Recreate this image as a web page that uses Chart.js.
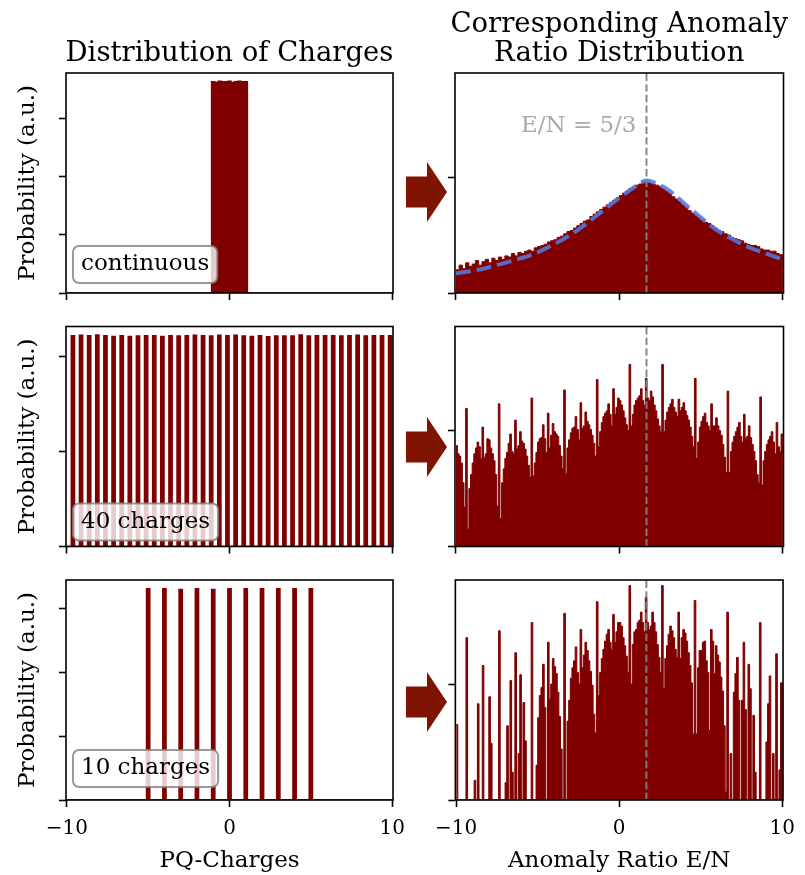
<!DOCTYPE html>
<html>
<head>
<meta charset="utf-8">
<script src="https://cdn.jsdelivr.net/npm/chart.js@4.4.1/dist/chart.umd.min.js"></script>
<style>
  body { margin: 0; background: #fff; }
  #fig { position: relative; width: 805px; height: 875px; overflow: hidden; background: #fff; }
  #fig canvas { position: absolute; }
  #arrows { position: absolute; left: 0; top: 0; }
</style>
</head>
<body>
<div id="fig">
  <canvas id="cTL"></canvas>
  <canvas id="cML"></canvas>
  <canvas id="cBL"></canvas>
  <canvas id="cTR"></canvas>
  <canvas id="cMR"></canvas>
  <canvas id="cBR"></canvas>
  <svg id="arrows" width="805" height="875">
    <polygon fill="#7f1402" points="406,176.5 427,176.5 427,162 447,192 427,222 427,207.5 406,207.5"/>
    <polygon fill="#7f1402" points="406,431.5 427,431.5 427,417 447,447 427,477 427,462.5 406,462.5"/>
    <polygon fill="#7f1402" points="406,686.5 427,686.5 427,672 447,702 427,732 427,717.5 406,717.5"/>
  </svg>
</div>
<script>
// ---- shared ----
const xTickValues = [-10, 0, 10];
const ratioRef = 5 / 3;          // E/N = 5/3
const rightTicks = [0, 1];
const rightMax = 1.897;

// ---- left column: charge distributions ----
// continuous: bin left edges, heights
const contEdges = [-1.1, -0.9, -0.7, -0.5, -0.3, -0.1, 0.1, 0.3, 0.5, 0.7, 0.9, 1.1];
const contHeights = [3.64, 3.63, 3.65, 3.64, 3.64, 3.65, 3.63, 3.64, 3.65, 3.64, 3.64];
const contTicks = [0, 1, 2, 3];

// 40 charges
const charges40 = [-9.625, -9.125, -8.625, -8.125, -7.625, -7.125, -6.625, -6.125, -5.625, -5.125,
  -4.625, -4.125, -3.625, -3.125, -2.625, -2.125, -1.625, -1.125, -0.625, -0.125,
  0.375, 0.875, 1.375, 1.875, 2.375, 2.875, 3.375, 3.875, 4.375, 4.875,
  5.375, 5.875, 6.375, 6.875, 7.375, 7.875, 8.375, 8.875, 9.375, 9.875];
const heights40 = [2.219, 2.223, 2.219, 2.226, 2.219, 2.212, 2.219, 2.212, 2.216, 2.219,
  2.219, 2.212, 2.219, 2.216, 2.219, 2.223, 2.219, 2.216, 2.223, 2.219,
  2.223, 2.216, 2.212, 2.219, 2.209, 2.216, 2.216, 2.216, 2.226, 2.216,
  2.219, 2.219, 2.219, 2.216, 2.219, 2.223, 2.216, 2.219, 2.219, 2.219];
const ticks40 = [0, 1, 2];

// 10 charges
const charges10 = [-5, -4, -3, -2, -1, 0, 1, 2, 3, 4, 5];
const heights10 = [3.30, 3.30, 3.29, 3.30, 3.29, 3.30, 3.30, 3.30, 3.30, 3.30, 3.30];
const ticks10 = [0, 1, 2, 3];

// ---- right column: anomaly ratio E/N histograms ----
// continuous case, bins of 0.2 from -10
const ratioCont = [
  0.20, 0.24, 0.21, 0.26, 0.23, 0.25, 0.28, 0.24, 0.27, 0.29,
  0.26, 0.30, 0.28, 0.31, 0.29, 0.32, 0.31, 0.34, 0.32, 0.35,
  0.34, 0.36, 0.37, 0.36, 0.39, 0.40, 0.41, 0.42, 0.44, 0.45,
  0.46, 0.48, 0.49, 0.51, 0.53, 0.54, 0.56, 0.58, 0.60, 0.62,
  0.63, 0.66, 0.68, 0.70, 0.72, 0.74, 0.76, 0.78, 0.80, 0.82,
  0.84, 0.86, 0.88, 0.90, 0.91, 0.93, 0.94, 0.96, 0.96, 0.95,
  0.94, 0.93, 0.92, 0.90, 0.88, 0.86, 0.83, 0.81, 0.79, 0.76,
  0.74, 0.71, 0.69, 0.67, 0.65, 0.63, 0.61, 0.60, 0.58, 0.56,
  0.54, 0.53, 0.51, 0.50, 0.48, 0.47, 0.46, 0.45, 0.43, 0.42,
  0.41, 0.41, 0.40, 0.38, 0.37, 0.37, 0.36, 0.36, 0.34, 0.33];
// fitted curve (dashed blue)
const fitX = [-10, -9, -8, -7, -6, -5, -4, -3, -2, -1, 0, 1, 5 / 3, 2, 3, 4, 5, 6, 7, 8, 9, 10];
const fitY = [0.17, 0.19, 0.22, 0.26, 0.30, 0.35, 0.42, 0.50, 0.60, 0.71, 0.82, 0.92, 0.97, 0.96,
  0.89, 0.77, 0.65, 0.54, 0.46, 0.39, 0.34, 0.29];

// 40 charges, bins of 0.1 from -10
const ratio40 = [
  0.87, 0.80, 0.78, 0.72, 0.55, 0.34, 1.19, 0.15, 0.50, 0.62,
  0.72, 0.80, 0.85, 0.90, 0.86, 0.76, 1.03, 0.77, 0.80, 0.93,
  0.92, 0.85, 0.80, 0.74, 0.62, 0.35, 1.23, 0.24, 0.55, 0.67,
  0.76, 0.81, 0.89, 0.97, 0.82, 0.80, 1.09, 0.84, 0.87, 0.99,
  0.91, 0.89, 0.84, 0.78, 0.70, 0.60, 1.28, 0.61, 0.72, 0.81,
  0.90, 0.93, 0.94, 1.05, 0.93, 0.81, 1.15, 0.85, 0.96, 1.06,
  0.99, 0.97, 0.95, 0.87, 0.78, 0.67, 1.35, 0.63, 0.85, 0.92,
  0.98, 1.02, 1.03, 1.12, 1.01, 0.92, 1.24, 1.02, 1.04, 1.16,
  1.08, 1.05, 1.01, 0.96, 0.89, 0.78, 1.44, 0.86, 0.99, 1.07,
  1.12, 1.15, 1.17, 1.23, 1.14, 1.04, 1.36, 1.14, 1.20, 1.28,
  1.26, 1.22, 1.17, 1.11, 1.05, 1.00, 1.57, 1.04, 1.14, 1.22,
  1.26, 1.28, 1.30, 1.36, 1.26, 1.22, 1.45, 1.28, 1.26, 1.34,
  1.29, 1.22, 1.17, 1.10, 1.04, 0.99, 1.57, 0.99, 1.09, 1.16,
  1.20, 1.23, 1.27, 1.20, 1.16, 1.12, 1.27, 1.17, 1.20, 1.24,
  1.17, 1.13, 1.09, 1.03, 0.95, 0.86, 1.45, 0.76, 0.90, 1.03,
  1.08, 1.12, 1.15, 1.07, 1.04, 1.00, 1.23, 1.04, 1.04, 1.11,
  1.04, 1.00, 0.96, 0.88, 0.77, 0.64, 1.34, 0.64, 0.82, 0.90,
  0.95, 0.99, 1.03, 1.07, 0.95, 0.90, 1.14, 0.93, 0.95, 1.04,
  0.94, 0.88, 0.82, 0.74, 0.62, 0.55, 1.29, 0.53, 0.74, 0.82,
  0.88, 0.92, 0.95, 0.99, 0.90, 0.80, 1.07, 0.86, 0.82, 0.97];

// 10 charges, bins of 0.1 from -10
const ratio10 = [
  0.65, 0, 0, 0, 0, 0, 1.40, 0, 0, 0,
  0, 0.17, 0, 0.83, 0, 0, 1.16, 0, 0, 0,
  0.89, 0.49, 0, 0, 0, 0, 1.46, 0, 0, 0,
  0.15, 0.64, 0, 1.03, 0.24, 0, 1.27, 0, 0.40, 1.08,
  0, 0.84, 0.51, 0, 0, 0, 1.53, 0, 0, 0.30,
  0.71, 0.90, 0.97, 1.17, 0.80, 0, 1.36, 0.87, 1.00, 1.22,
  1.15, 1.09, 0.93, 0.72, 0.44, 0, 1.61, 0, 0.68, 0.86,
  1.05, 1.14, 1.20, 1.32, 1.10, 1.00, 1.47, 1.14, 1.25, 1.36,
  1.29, 1.20, 1.11, 0.99, 0.74, 0.58, 1.71, 0.90, 1.10, 1.22,
  1.30, 1.37, 1.43, 1.47, 1.36, 1.30, 1.60, 1.36, 1.45, 1.53,
  1.53, 1.50, 1.40, 1.33, 1.24, 1.10, 1.85, 1.00, 1.34, 1.45,
  1.47, 1.53, 1.55, 1.62, 1.53, 1.45, 1.75, 1.53, 1.47, 1.50,
  1.62, 1.53, 1.45, 1.34, 1.23, 1.10, 1.85, 0.96, 1.22, 1.33,
  1.43, 1.50, 1.46, 1.40, 1.30, 1.23, 1.62, 1.22, 1.40, 1.47,
  1.44, 1.37, 1.27, 1.16, 1.01, 0.57, 1.72, 0.57, 1.14, 1.29,
  1.29, 1.36, 1.37, 1.20, 1.10, 0.60, 1.47, 1.37, 1.09, 1.33,
  1.25, 1.19, 1.06, 0.94, 0.64, 0.07, 1.62, 0, 0.40, 0,
  0.93, 1.09, 1.23, 0.86, 0, 0.86, 1.36, 0.78, 0, 1.17,
  0.96, 0, 0.73, 0.24, 0, 0, 1.53, 0, 0, 0,
  0.50, 0.83, 1.07, 0, 0.40, 0, 1.26, 0, 0.26, 1.01];

// ---- helpers ----
const MAROON = '#800000';
const FONT = '"DejaVu Serif", serif';

function binsToPoints(start, width, values) {
  const pts = values.map((v, i) => ({x: start + i * width, y: v}));
  pts.push({x: start + values.length * width, y: 0});
  return pts;
}

function edgesToPoints(edges, heights) {
  const pts = [{x: -10, y: 0}];
  heights.forEach((h, i) => pts.push({x: edges[i], y: h}));
  pts.push({x: edges[edges.length - 1], y: 0});
  pts.push({x: 10, y: 0});
  return pts;
}

function barsToPoints(centers, heights, half) {
  const pts = [{x: -10, y: 0}];
  centers.forEach((c, i) => {
    pts.push({x: c - half, y: heights[i]});
    pts.push({x: c + half, y: 0});
  });
  pts.push({x: 10, y: 0});
  return pts;
}

function histDataset(points, width) {
  return {
    data: points, stepped: 'before', fill: 'origin',
    backgroundColor: MAROON, borderColor: MAROON, borderWidth: width,
    pointRadius: 0, order: 3
  };
}

function refLine(ymax) {
  return {
    data: [{x: ratioRef, y: 0}, {x: ratioRef, y: ymax}],
    borderColor: 'rgba(128,128,128,0.95)', borderWidth: 2, borderDash: [7.4, 3.2],
    pointRadius: 0, fill: false, order: 1
  };
}

function roundRectPath(ctx, x, y, w, h, r) {
  ctx.beginPath();
  ctx.moveTo(x + r, y);
  ctx.arcTo(x + w, y, x + w, y + h, r);
  ctx.arcTo(x + w, y + h, x, y + h, r);
  ctx.arcTo(x, y + h, x, y, r);
  ctx.arcTo(x, y, x + w, y, r);
  ctx.closePath();
}

function drawTag(chart, text, gap) {
  const {ctx, chartArea: a} = chart;
  ctx.save();
  ctx.font = '23px ' + FONT;
  const w = ctx.measureText(text).width;
  const x0 = a.left + 7, y1 = a.bottom - gap, h = 37;
  roundRectPath(ctx, x0, y1 - h, w + 16, h, 6);
  ctx.fillStyle = 'rgba(255,255,255,0.8)';
  ctx.fill();
  ctx.strokeStyle = 'rgba(128,128,128,0.8)';
  ctx.lineWidth = 2;
  ctx.stroke();
  ctx.fillStyle = '#000';
  ctx.textBaseline = 'alphabetic';
  ctx.fillText(text, x0 + 8, y1 - 13);
  ctx.restore();
}

const framePlugin = {
  id: 'frame',
  afterDatasetsDraw(chart) {
    const {ctx, chartArea: a} = chart;
    ctx.save();
    ctx.strokeStyle = '#000';
    ctx.lineWidth = 1.6;
    ctx.strokeRect(a.left, a.top, a.right - a.left, a.bottom - a.top);
    ctx.restore();
  }
};

// layout of the figure grid (pixels in the page)
const COLS = {
  left:  {x: 0,   w: 420, plotLeft: 66,  plotRight: 393},
  right: {x: 425, w: 380, plotLeft: 455, plotRight: 783.5}
};
const ROWS = [
  {y: 0,   h: 315, top: 73,    bottom: 293},
  {y: 315, h: 255, top: 326.5, bottom: 546.5},
  {y: 570, h: 305, top: 580,   bottom: 800}
];

function makePanel(id, colKey, rowIdx, cfg) {
  const col = COLS[colKey], row = ROWS[rowIdx];
  const canvas = document.getElementById(id);
  canvas.width = col.w;
  canvas.height = row.h;
  canvas.style.left = col.x + 'px';
  canvas.style.top = row.y + 'px';
  const isBottom = rowIdx === 2;
  const isLeft = colKey === 'left';

  return new Chart(canvas, {
    type: 'line',
    data: {datasets: cfg.datasets},
    options: {
      responsive: false, animation: false, devicePixelRatio: 1, events: [],
      layout: {padding: {left: 0, top: row.top - row.y, right: col.x + col.w - col.plotRight, bottom: 0}},
      plugins: {legend: {display: false}, tooltip: {enabled: false}},
      scales: {
        x: {
          type: 'linear', min: -10.05, max: 10.05,
          afterBuildTicks: s => { s.ticks = xTickValues.map(v => ({value: v})); },
          afterFit: s => { s.height = row.y + row.h - row.bottom; },
          border: {display: false},
          grid: {drawOnChartArea: false, drawTicks: true, tickLength: 7, tickWidth: 1.6, tickColor: '#000'},
          ticks: {
            display: isBottom, padding: 10, color: '#000', font: {family: FONT, size: 20},
            callback: v => (v < 0 ? '\u2212' + Math.abs(v) : String(v))
          },
          title: {
            display: isBottom, text: isLeft ? 'PQ-Charges' : 'Anomaly Ratio E/N',
            color: '#000', font: {family: FONT, size: 23}, padding: {top: 0, bottom: 0}
          }
        },
        y: {
          min: 0, max: cfg.ymax,
          afterBuildTicks: s => { s.ticks = cfg.yticks.map(v => ({value: v})); },
          afterFit: s => { s.width = col.plotLeft - col.x; },
          border: {display: false},
          grid: {drawOnChartArea: false, drawTicks: true, tickLength: 7, tickWidth: 1.6, tickColor: '#000'},
          ticks: {display: false},
          title: {
            display: isLeft, text: 'Probability (a.u.)', color: '#000',
            font: {family: FONT, size: 23}, padding: {top: 14, bottom: 0}
          }
        }
      }
    },
    plugins: [framePlugin, {id: 'notes', afterDraw: chart => cfg.notes && cfg.notes(chart)}]
  });
}

// ---- left column ----
makePanel('cTL', 'left', 0, {
  ymax: 3.793, yticks: contTicks,
  datasets: [histDataset(edgesToPoints(contEdges, contHeights), 1.5)],
  notes: chart => {
    const {ctx, chartArea: a} = chart;
    ctx.save();
    ctx.font = '27.5px ' + FONT;
    ctx.fillStyle = '#000';
    ctx.textAlign = 'center';
    ctx.fillText('Distribution of Charges', (a.left + a.right) / 2, a.top - 12);
    ctx.restore();
    drawTag(chart, 'continuous', 10);
  }
});

makePanel('cML', 'left', 1, {
  ymax: 2.316, yticks: ticks40,
  datasets: [histDataset(barsToPoints(charges40, heights40, 0.1), 1.5)],
  notes: chart => drawTag(chart, '40 charges', 6)
});

makePanel('cBL', 'left', 2, {
  ymax: 3.4375, yticks: ticks10,
  datasets: [histDataset(barsToPoints(charges10, heights10, 0.1), 1.5)],
  notes: chart => drawTag(chart, '10 charges', 13)
});

// ---- right column ----
makePanel('cTR', 'right', 0, {
  ymax: rightMax, yticks: rightTicks,
  datasets: [
    histDataset(binsToPoints(-10, 0.2, ratioCont), 1),
    {
      data: fitX.map((x, i) => ({x: x, y: fitY[i]})),
      borderColor: 'rgba(85,120,225,0.88)', borderWidth: 4, borderDash: [15, 6],
      cubicInterpolationMode: 'monotone', pointRadius: 0, fill: false, order: 2
    },
    refLine(rightMax)
  ],
  notes: chart => {
    const {ctx, chartArea: a, scales} = chart;
    const cx = (a.left + a.right) / 2;
    ctx.save();
    ctx.font = '27.5px ' + FONT;
    ctx.fillStyle = '#000';
    ctx.textAlign = 'center';
    ctx.fillText('Corresponding Anomaly', cx, a.top - 41);
    ctx.fillText('Ratio Distribution', cx, a.top - 12);
    ctx.font = '23px ' + FONT;
    ctx.fillStyle = '#aaaaaa';
    ctx.textAlign = 'right';
    ctx.fillText('E/N = 5/3', scales.x.getPixelForValue(ratioRef) - 10, a.top + 59);
    ctx.restore();
  }
});

makePanel('cMR', 'right', 1, {
  ymax: rightMax, yticks: rightTicks,
  datasets: [histDataset(binsToPoints(-10, 0.1, ratio40), 1), refLine(rightMax)]
});

makePanel('cBR', 'right', 2, {
  ymax: rightMax, yticks: rightTicks,
  datasets: [histDataset(binsToPoints(-10, 0.1, ratio10), 1), refLine(rightMax)]
});
</script>
</body>
</html>
